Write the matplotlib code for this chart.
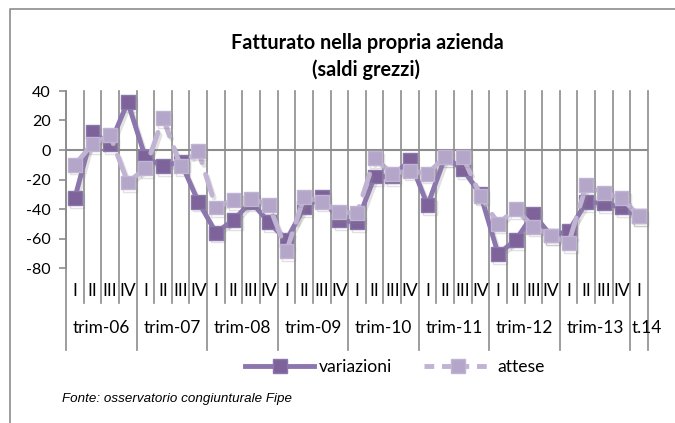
import matplotlib
matplotlib.use("Agg")
import matplotlib.pyplot as plt
import matplotlib.patheffects as pe
import matplotlib.transforms as mtransforms
from matplotlib.lines import Line2D

years = ["trim-06", "trim-07", "trim-08", "trim-09", "trim-10", "trim-11", "trim-12", "trim-13", "t.14"]
quarters = ["I", "II", "III", "IV"]
quarter_labels = quarters * 8 + ["I"]

variazioni = [-32.5, 12, 4, 32.5,
              -5, -11, -8, -35,
              -56, -47.5, -35, -49,
              -61, -39, -32, -47.5,
              -49, -18, -18, -7,
              -37.5, -4.6, -13, -30,
              -70.5, -61, -43.5, -58,
              -55, -35.5, -36, -39,
              -45]
attese = [-10, 4, 10, -22,
          -12.5, 21.5, -11, -0.5,
          -39, -34, -33, -37,
          -68.5, -32, -35, -42,
          -43, -5.7, -16, -14,
          -16, -4.6, -4.6, -31,
          -50, -40, -52, -58,
          -63, -24, -29, -32.5,
          -45]

yticks = [40, 20, 0, -20, -40, -60, -80]

W, H = 675, 423
fig = plt.figure(figsize=(W / 100, H / 100), dpi=100)

font = "Lato"
plt.rcParams["font.family"] = [font, "DejaVu Sans"]

# axes: plot area from y=91 (40) to y=268 (-80), x 66..648
ax = fig.add_axes([66 / W, 1 - 268 / H, (648 - 66) / W, (268 - 91) / H])
n = len(variazioni)
x = list(range(n))
ax.set_xlim(-0.5, n - 0.5)
ax.set_ylim(-80, 40)
for s in ["top", "right", "bottom"]:
    ax.spines[s].set_visible(False)
ax.spines["left"].set_color("#8c8c8c")
ax.spines["left"].set_linewidth(1.2)
ax.set_xticks([])
ax.set_yticks(yticks)
ax.set_yticklabels([str(v) for v in yticks], fontsize=11.5, color="#000000")
ax.tick_params(axis="y", length=5, color="#8c8c8c", width=1.2, pad=6)

# zero axis line
ax.axhline(0, color="#8c8c8c", lw=1.5, zorder=1)

trans = mtransforms.blended_transform_factory(ax.transData, ax.transAxes)
q_bottom = (268 - 303) / 177
y_bottom = (268 - 350) / 177
for k in range(n + 1):
    xb = k - 0.5
    yb = y_bottom if (k % 4 == 0 or k == n) else q_bottom
    ax.plot([xb, xb], [1, yb], transform=trans, color="#8c8c8c", lw=1.2,
            clip_on=False, zorder=0.5)

for i, lab in enumerate(quarter_labels):
    ax.text(i, (268 - 291) / 177, lab, transform=trans, ha="center", va="center",
            fontsize=12.5, color="#000000")
for j, yr in enumerate(years):
    if j < 8:
        cx = 4 * j + 1.5
        ax.text(cx, (268 - 328) / 177, yr, transform=trans, ha="center", va="center",
                fontsize=12.4, color="#000000")
    else:
        ax.text(31.55, (268 - 328) / 177, yr, transform=trans, ha="left", va="center",
                fontsize=12.4, color="#000000")

shadow = [pe.SimpleLineShadow(offset=(1.5, -2), shadow_color="#888888", alpha=0.25), pe.Normal()]

dark_line = "#8c76ae"
dark_mark = "#7d6399"
light_line = "#c0b3d4"
light_mark = "#b4a6c8"

ax.plot(x, variazioni, color=dark_line, lw=3.5, marker="s", markersize=10,
        markerfacecolor=dark_mark, markeredgecolor=dark_line, markeredgewidth=1,
        solid_joinstyle="round", zorder=3, path_effects=shadow, clip_on=False)
ax.plot(x, attese, color=light_line, lw=3.5, ls=(0, (4.5, 2.5)), marker="s", markersize=10,
        markerfacecolor=light_mark, markeredgecolor=light_line, markeredgewidth=1,
        dash_capstyle="round", zorder=4, path_effects=shadow, clip_on=False)

# title
fig.text(367 / W, 1 - 43 / H, "Fatturato nella propria azienda", ha="center", va="center",
         fontsize=14.3, fontweight="bold", color="#000000")
fig.text(366 / W, 1 - 70 / H, "(saldi grezzi)", ha="center", va="center",
         fontsize=14.3, fontweight="bold", color="#000000")

# legend
h1 = Line2D([], [], color=dark_line, lw=3.5, marker="s", markersize=10,
            markerfacecolor=dark_mark, markeredgecolor=dark_line)
h2 = Line2D([], [], color=light_line, lw=3.5, ls=(0, (2, 1.6)), marker="s", markersize=10,
            markerfacecolor=light_mark, markeredgecolor=light_line)
fig.legend([h1, h2], ["variazioni", "attese"], loc="center", bbox_to_anchor=(395 / W, 1 - 367 / H),
           ncol=2, frameon=False, handlelength=3.9, columnspacing=1.8, handletextpad=0.3,
           prop={"size": 12.6})

# source
fig.text(62 / W, 1 - 399 / H, "Fonte: osservatorio congiunturale Fipe", ha="left", va="center",
         fontsize=9.6, style="italic", family=["Liberation Sans", "DejaVu Sans"], color="#000000")

# chart frame (top and left edges)
fig.add_artist(Line2D([10 / W, 10 / W, 1.0], [0.0, 1 - 9 / H, 1 - 9 / H],
                      transform=fig.transFigure, color="#8c8c8c", lw=1.2))

fig.savefig("out.png", dpi=100)
